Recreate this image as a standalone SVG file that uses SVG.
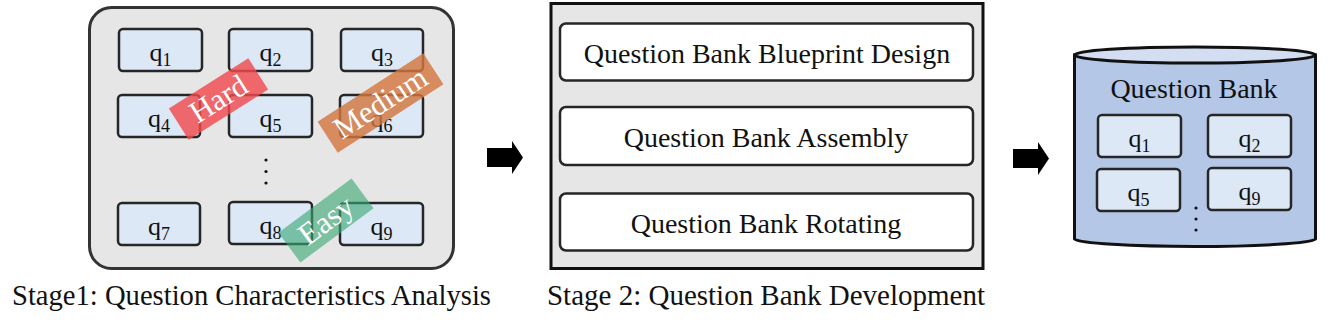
<svg xmlns="http://www.w3.org/2000/svg" width="1328" height="323" viewBox="0 0 1328 323">
<style>
text{font-family:"Liberation Serif","Times New Roman",serif;fill:#111}
.q{fill:#dce8f5;stroke:#262626;stroke-width:2.5}
.ql{font-size:26px;text-anchor:middle}
.sub{font-size:18px}
.step{fill:#fff;stroke:#262626;stroke-width:2.5}
.st{font-size:28px;text-anchor:middle}
.tag{font-size:31px;fill:#fff;text-anchor:middle}
.cap{font-size:29px}
.dot{fill:#111}
</style>
<defs>
<path id="arrow" d="M0,7 H25 V0 L36,16.5 L25,33 V26 H0 Z" fill="#000"/>
</defs>
<rect width="1328" height="323" fill="#fff"/>

<g id="stage1">
<rect x="89.5" y="7.5" width="364" height="261" rx="22" fill="#e6e6e6" stroke="#333" stroke-width="3"/>
<g id="s1-q1"><rect class="q" x="119" y="29" width="83" height="42" rx="4"/><text class="ql" x="160.5" y="61">q<tspan class="sub" dy="5">1</tspan></text></g>
<g id="s1-q2"><rect class="q" x="229" y="29" width="83" height="42" rx="4"/><text class="ql" x="270.5" y="61">q<tspan class="sub" dy="5">2</tspan></text></g>
<g id="s1-q3"><rect class="q" x="341" y="29" width="82" height="42" rx="4"/><text class="ql" x="382" y="61">q<tspan class="sub" dy="5">3</tspan></text></g>
<g id="s1-q4"><rect class="q" x="118" y="95" width="82" height="42" rx="4"/><text class="ql" x="159" y="127">q<tspan class="sub" dy="5">4</tspan></text></g>
<g id="s1-q5"><rect class="q" x="229" y="95" width="83" height="42" rx="4"/><text class="ql" x="270.5" y="127">q<tspan class="sub" dy="5">5</tspan></text></g>
<g id="s1-q6"><rect class="q" x="340" y="95" width="83" height="42" rx="4"/><text class="ql" x="381.5" y="127">q<tspan class="sub" dy="5">6</tspan></text></g>
<g id="s1-q7"><rect class="q" x="118" y="203" width="82" height="42" rx="4"/><text class="ql" x="159" y="235">q<tspan class="sub" dy="5">7</tspan></text></g>
<g id="s1-q8"><rect class="q" x="229" y="202" width="83" height="42" rx="4"/><text class="ql" x="270.5" y="234">q<tspan class="sub" dy="5">8</tspan></text></g>
<g id="s1-q9"><rect class="q" x="340" y="203" width="83" height="42" rx="4"/><text class="ql" x="381.5" y="235">q<tspan class="sub" dy="5">9</tspan></text></g>
<g id="s1-dots"><circle class="dot" cx="266" cy="160" r="1.6"/><circle class="dot" cx="266" cy="171.5" r="1.6"/><circle class="dot" cx="266" cy="183" r="1.6"/></g>
<g id="tag-hard" transform="translate(218.5,99) rotate(-32.3)"><rect x="-47" y="-18.5" width="94" height="37" fill="#f04b4f" fill-opacity="0.82"/><text class="tag" x="0" y="10">Hard</text></g>
<g id="tag-medium" transform="translate(380.5,103) rotate(-33)"><rect x="-63" y="-18.5" width="126" height="37" fill="#d3763f" fill-opacity="0.82"/><text class="tag" x="0" y="10">Medium</text></g>
<g id="tag-easy" transform="translate(326,220.5) rotate(-36.5)"><rect x="-45.5" y="-18.5" width="91" height="37" fill="#3aa874" fill-opacity="0.62"/><text class="tag" x="0" y="10">Easy</text></g>
</g>

<g id="stage2">
<rect x="551" y="3.5" width="432" height="265" fill="#e6e6e6" stroke="#111" stroke-width="3"/>
<g id="step-blueprint"><rect class="step" x="560" y="23.5" width="413" height="57" rx="6"/><text class="st" x="767" y="63">Question Bank Blueprint Design</text></g>
<g id="step-assembly"><rect class="step" x="560" y="107" width="413" height="58" rx="6"/><text class="st" x="766" y="147">Question Bank Assembly</text></g>
<g id="step-rotating"><rect class="step" x="560" y="193.5" width="413" height="57" rx="6"/><text class="st" x="766" y="233">Question Bank Rotating</text></g>
</g>

<g id="stage3">
<path d="M1074.5,55 V239 A120.75,8 0 0 0 1315.5,239 V55 Z" fill="#b4c7e7" stroke="#111" stroke-width="3"/>
<ellipse cx="1195" cy="55" rx="120.5" ry="8" fill="#d3def2" stroke="#111" stroke-width="3"/>
<text class="st" x="1194" y="98">Question Bank</text>
<g id="s3-q1"><rect class="q" x="1098" y="115" width="83" height="42" rx="4"/><text class="ql" x="1139.5" y="147">q<tspan class="sub" dy="5">1</tspan></text></g>
<g id="s3-q2"><rect class="q" x="1208" y="115" width="83" height="42" rx="4"/><text class="ql" x="1249.5" y="147">q<tspan class="sub" dy="5">2</tspan></text></g>
<g id="s3-q5"><rect class="q" x="1097" y="169" width="83" height="42" rx="4"/><text class="ql" x="1138.5" y="201">q<tspan class="sub" dy="5">5</tspan></text></g>
<g id="s3-q9"><rect class="q" x="1208" y="168" width="83" height="42" rx="4"/><text class="ql" x="1249.5" y="200">q<tspan class="sub" dy="5">9</tspan></text></g>
<g id="s3-dots"><circle class="dot" cx="1196" cy="208" r="1.6"/><circle class="dot" cx="1196" cy="219" r="1.6"/><circle class="dot" cx="1196" cy="230" r="1.6"/></g>
</g>

<g id="connectors">
<use href="#arrow" x="487" y="141"/>
<use href="#arrow" x="1013" y="142"/>
</g>

<g id="captions">
<text class="cap" x="12" y="305" textLength="479" lengthAdjust="spacingAndGlyphs">Stage1: Question Characteristics Analysis</text>
<text class="cap" x="547" y="305" textLength="438" lengthAdjust="spacingAndGlyphs">Stage 2: Question Bank Development</text>
</g>
</svg>
